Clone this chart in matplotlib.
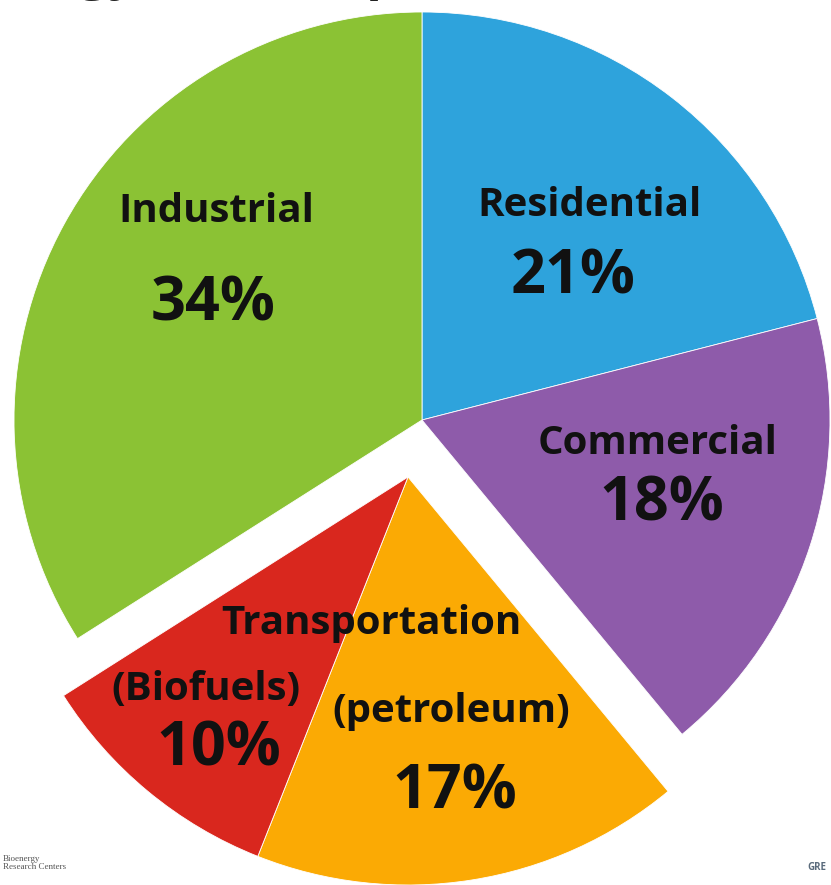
import matplotlib
matplotlib.use("Agg")
import matplotlib.pyplot as plt

# Shares of energy use by sector (clockwise from 12 o'clock)
sectors = ["Residential", "Commercial", "Transportation (petroleum)",
           "Transportation (Biofuels)", "Industrial"]
shares = [21, 18, 17, 10, 34]
colors = ["#2EA3DC", "#8E5BAA", "#FBAA04", "#D9271E", "#8BC234"]
exploded = [False, False, True, True, False]

# pixel geometry of the original picture
W, H = 831, 885
CX, CY, R = 422, 420, 408
SHIFT = (-14, 57)  # transportation pulled out as one group


def px(x, y):
    return (x - CX) / R, (CY - y) / R


plt.rcParams['font.family'] = ['Open Sans', 'DejaVu Sans']

fig = plt.figure(figsize=(W / 100, H / 100), dpi=100)
ax = fig.add_axes([0, 0, 1, 1])

wedges, _ = ax.pie(shares, colors=colors, startangle=90, counterclock=False,
                   radius=1, wedgeprops=dict(linewidth=0.6, edgecolor="white"))
dx, dy = SHIFT[0] / R, -SHIFT[1] / R
for w, ex in zip(wedges, exploded):
    if ex:
        w.set_center((dx, dy))

ax.set_xlim(-CX / R, (W - CX) / R)
ax.set_ylim(-(H - CY) / R, CY / R)
ax.set_aspect('equal')
ax.axis('off')

ink = "#111111"
labels = [
    ("Industrial", 216, 212, 29),
    ("34%", 213, 305, 44),
    ("Residential", 590, 206, 29),
    ("21%", 573, 278, 44),
    ("Commercial", 658, 444, 29),
    ("18%", 662, 505, 44),
    ("Transportation", 371, 624, 29),
    ("(Biofuels)", 206, 690, 29),
    ("10%", 219, 750, 44),
    ("(petroleum)", 451, 712, 29),
    ("17%", 455, 793, 44),
]
for txt, x, y, size in labels:
    ax.text(*px(x, y), txt, ha='center', va='center', fontsize=size,
            fontweight='bold', color=ink)

# slide title (mostly cropped away in the original) and footer logos
fig.text(-40 / W, 1 + 12 / H, "Energy Consumption", ha='left', va='baseline',
         fontsize=38, fontweight='bold', color="#222222")
fig.text(3 / W, 1 - 869 / H, "Bioenergy\nResearch Centers", ha='left',
         va='baseline', fontsize=6.5, family='Liberation Serif', color="#555555",
         linespacing=1.0)
fig.text(826 / W, 1 - 870 / H, "GRE", ha='right', va='baseline',
         fontsize=7, fontweight='bold', color="#5A6B7C")

fig.savefig("out.png", dpi=100)
